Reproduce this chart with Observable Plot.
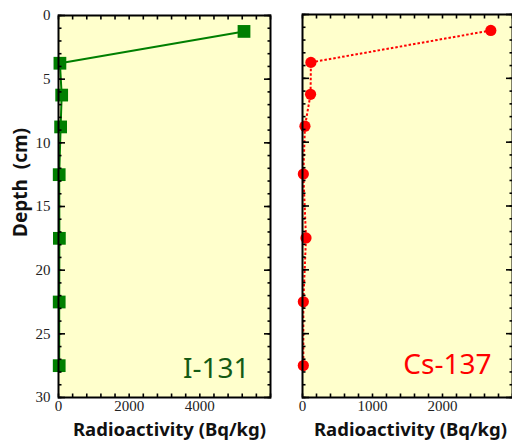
<!DOCTYPE html>
<html>
<head>
<meta charset="utf-8">
<script src="https://cdn.jsdelivr.net/npm/d3@7"></script>
<script src="https://cdn.jsdelivr.net/npm/@observablehq/plot@0.6"></script>
<style>
  html, body { margin: 0; padding: 0; background: #fff; }
  #chart { display: flex; width: 512px; height: 445px; overflow: hidden; }
  #chart svg { flex: none; overflow: visible; }
  #chart g[aria-label$="tick label"] text {
    font-family: 'Liberation Serif', 'Times New Roman', serif !important;
  }
</style>
</head>
<body>
<div id="chart"></div>
<script>
// Data
const depth = [1.25, 3.75, 6.25, 8.75, 12.5, 17.5, 22.5, 27.5];
const i131 = [5250, 40, 90, 60, 20, 25, 20, 20];
const cs137 = [2690, 120, 115, 35, 12, 50, 12, 12];

const depthTicks = [0, 5, 10, 15, 20, 25, 30];
const i131Ticks = [0, 2000, 4000];
const cs137Ticks = [0, 1000, 2000];
const panelLabels = ["I-131", "Cs-137"];
const xTitle = "Radioactivity (Bq/kg)";
const yTitle = "Depth  (cm)";

const bg = "#ffffcc";
const green = "#007f00";
const red = "#ff0000";
const tickFont = "'Liberation Serif', serif";
const titleFont = "Noto Sans";

const i131Data = depth.map((d, i) => ({depth: d, value: i131[i]}));
const csData = depth.map((d, i) => ({depth: d, value: cs137[i]}));

function tickMarks(xMax, xMinorStep, withYLabels, xLabelTicks) {
  const yMinor = d3.range(0, 31, 1);
  const xMinor = d3.range(0, xMax + 1, xMinorStep);
  const blank = () => "";
  const common = {label: null, stroke: "black", strokeWidth: 1.6, tickFormat: blank};
  const marks = [];
  for (const anchor of ["left", "right"]) {
    marks.push(Plot.axisY(yMinor, {...common, anchor, tickSize: -3.5}));
    marks.push(Plot.axisY(depthTicks, {...common, anchor, tickSize: -7}));
  }
  for (const anchor of ["top", "bottom"]) {
    marks.push(Plot.axisX(xMinor, {...common, anchor, tickSize: -3.5}));
  }
  if (withYLabels) {
    marks.push(Plot.axisY(depthTicks, {anchor: "left", tickSize: 0, tickPadding: 8, label: null,
      tickFormat: d => String(d), fontFamily: tickFont, fontSize: 15, fill: "#222"}));
  }
  marks.push(Plot.axisX(xLabelTicks, {anchor: "bottom", tickSize: 0, tickPadding: 3, label: null,
    tickFormat: d => String(d), fontFamily: tickFont, fontSize: 15, fill: "#222"}));
  return marks;
}

const left = Plot.plot({
  width: 280, height: 445,
  marginLeft: 58, marginRight: 10, marginTop: 15, marginBottom: 48,
  x: {domain: [0, 6000]},
  y: {domain: [0, 30], reverse: true},
  marks: [
    Plot.frame({fill: bg, stroke: null}),
    Plot.line(i131Data, {x: "value", y: "depth", stroke: green, strokeWidth: 2}),
    Plot.dot(i131Data, {x: "value", y: "depth", symbol: "square", r: 7.2, fill: green, stroke: null}),
    Plot.text([panelLabels[0]], {frameAnchor: "bottom-right", text: d => d, textAnchor: "end",
      lineAnchor: "bottom", dx: -21, dy: -20, fontFamily: titleFont, fontSize: 28, fill: "#145a14"}),
    ...tickMarks(6000, 400, true, i131Ticks),
    Plot.frame({stroke: "black", strokeWidth: 2}),
    Plot.text([xTitle], {frameAnchor: "bottom", text: d => d, textAnchor: "middle", dx: 5, dy: 38,
      fontFamily: titleFont, fontSize: 18.5, fontWeight: "bold", fill: "#111"}),
    Plot.text([yTitle], {frameAnchor: "left", text: d => d, textAnchor: "middle", rotate: -90, dx: -38, dy: -24,
      fontFamily: titleFont, fontSize: 19, fontWeight: "bold", fill: "#111"})
  ]
});

const right = Plot.plot({
  width: 232, height: 445,
  marginLeft: 22, marginRight: 0, marginTop: 14, marginBottom: 48,
  x: {domain: [0, 3000]},
  y: {domain: [0, 30], reverse: true},
  marks: [
    Plot.frame({fill: bg, stroke: null}),
    Plot.line(csData, {x: "value", y: "depth", stroke: red, strokeWidth: 2,
      strokeDasharray: "2.5,2", strokeLinecap: "butt"}),
    Plot.dot(csData, {x: "value", y: "depth", r: 5.6, fill: red, stroke: null}),
    Plot.text([panelLabels[1]], {frameAnchor: "bottom-right", text: d => d, textAnchor: "end",
      lineAnchor: "bottom", dx: -21, dy: -24, fontFamily: titleFont, fontSize: 28, fill: red}),
    ...tickMarks(3000, 200, false, cs137Ticks),
    Plot.frame({stroke: "black", strokeWidth: 2}),
    Plot.text([xTitle], {frameAnchor: "bottom", text: d => d, textAnchor: "middle", dx: 3, dy: 38,
      fontFamily: titleFont, fontSize: 18.5, fontWeight: "bold", fill: "#111"})
  ]
});

// Remove the empty label texts that the tick-only axes leave behind
for (const svg of [left, right]) {
  svg.querySelectorAll("text").forEach(t => { if (!t.textContent.trim()) t.remove(); });
}

document.getElementById("chart").append(left, right);
</script>
</body>
</html>
